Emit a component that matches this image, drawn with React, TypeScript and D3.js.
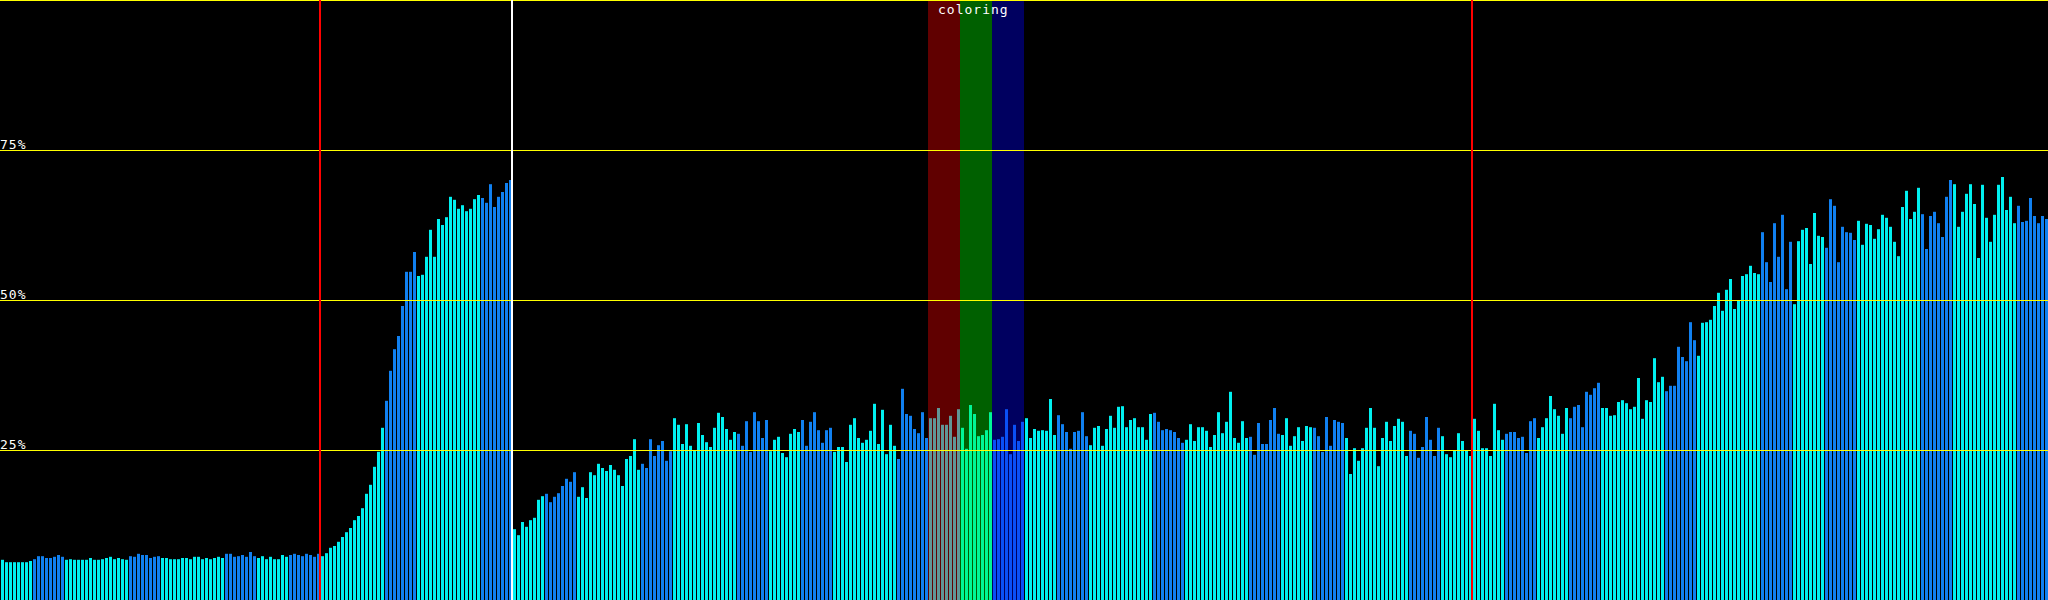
import React from "react";
import * as d3 from "d3";

// Usage per page (percent), 512 pages in 4 ranges
const usage0to127 = [
  6.7, 6.3, 6.3, 6.3, 6.3, 6.3, 6.3, 6.5, 6.8, 7.3, 7.3, 7.0, 7.0, 7.2, 7.5, 7.2,
  6.7, 6.8, 6.7, 6.7, 6.7, 6.7, 7.0, 6.7, 6.7, 6.8, 7.0, 7.2, 6.8, 7.0, 6.8, 6.7,
  7.3, 7.2, 7.7, 7.5, 7.5, 7.0, 7.2, 7.3, 7.0, 7.0, 6.8, 6.8, 6.8, 7.0, 7.0, 6.8,
  7.2, 7.2, 6.8, 7.0, 6.8, 7.0, 7.2, 7.0, 7.7, 7.7, 7.2, 7.3, 7.5, 7.2, 8.0, 7.3,
  7.0, 7.3, 6.8, 7.2, 6.8, 6.8, 7.5, 7.2, 7.5, 7.7, 7.5, 7.3, 7.7, 7.5, 7.2, 7.7,
  7.3, 7.8, 8.7, 9.0, 9.7, 10.5, 11.3, 12.0, 13.3, 14.0, 15.3, 17.7, 19.2, 22.2, 24.7, 28.7,
  33.2, 38.2, 41.8, 44.0, 49.0, 54.7, 54.7, 58.0, 54.0, 54.2, 57.2, 61.7, 57.2, 63.5, 62.5, 63.8,
  67.2, 66.7, 65.2, 65.8, 64.8, 65.2, 66.8, 67.5, 67.0, 66.2, 69.3, 65.5, 67.2, 68.0, 69.5, 70.0,
];
const usage128to255 = [
  11.8, 10.8, 13.0, 12.2, 13.3, 13.7, 16.7, 17.3, 17.7, 16.3, 17.2, 17.8, 19.0, 20.2, 19.7, 21.3,
  17.2, 18.8, 17.0, 21.3, 20.8, 22.7, 22.0, 21.5, 22.5, 21.7, 20.8, 19.0, 23.5, 24.0, 26.8, 21.7,
  22.7, 22.0, 26.8, 24.0, 25.8, 26.5, 23.2, 24.8, 30.3, 29.2, 26.0, 29.3, 25.7, 25.0, 29.5, 27.5,
  26.3, 25.5, 28.7, 31.2, 30.5, 28.5, 26.7, 28.0, 27.7, 25.7, 29.8, 24.7, 31.3, 29.8, 27.0, 30.0,
  24.8, 26.7, 27.2, 24.5, 23.8, 27.7, 28.5, 28.0, 30.0, 25.7, 29.7, 31.3, 28.3, 26.2, 28.3, 28.7,
  24.7, 25.5, 25.5, 23.0, 29.2, 30.3, 27.0, 26.2, 26.7, 28.2, 32.7, 26.0, 31.7, 24.3, 29.2, 25.7,
  23.5, 35.2, 31.0, 30.7, 28.5, 27.8, 31.3, 27.0, 30.3, 30.3, 32.0, 29.2, 29.2, 30.7, 27.2, 31.8,
  28.7, 25.2, 32.5, 31.0, 27.3, 27.5, 28.3, 31.3, 26.7, 26.8, 27.2, 31.8, 24.3, 29.2, 26.5, 29.7,
];
const usage256to383 = [
  30.3, 27.0, 28.5, 28.2, 28.3, 28.2, 33.5, 27.5, 30.8, 29.3, 28.0, 25.2, 28.0, 28.2, 31.3, 27.3,
  25.8, 28.7, 29.0, 25.7, 28.5, 30.7, 28.7, 32.2, 32.3, 28.8, 30.0, 30.3, 28.8, 28.8, 26.7, 31.0,
  31.2, 29.7, 28.3, 28.5, 28.3, 28.0, 27.0, 26.2, 26.7, 29.3, 26.5, 28.8, 28.8, 28.2, 25.5, 27.5,
  31.3, 27.8, 29.7, 34.7, 27.0, 26.2, 29.8, 27.0, 27.2, 24.2, 29.5, 26.0, 26.0, 30.0, 32.0, 27.7,
  27.5, 30.3, 25.7, 27.3, 28.8, 26.5, 29.0, 28.8, 28.7, 27.3, 24.7, 30.5, 25.7, 30.0, 29.7, 29.5,
  27.0, 21.0, 25.3, 23.2, 25.3, 28.7, 32.0, 28.7, 22.3, 27.0, 29.7, 26.5, 29.0, 30.2, 29.7, 24.0,
  28.2, 27.7, 23.7, 25.5, 30.5, 26.7, 24.0, 28.7, 27.3, 24.3, 23.8, 25.0, 27.8, 26.5, 25.0, 24.0,
  30.2, 28.2, 25.3, 25.3, 24.0, 32.7, 28.3, 26.7, 27.7, 28.0, 28.0, 27.0, 27.2, 24.5, 29.8, 30.3,
];
const usage384to511 = [
  27.0, 28.8, 30.3, 34.0, 31.8, 30.7, 27.7, 32.0, 30.3, 32.2, 32.5, 28.8, 34.7, 34.2, 35.3, 36.2,
  32.0, 32.0, 30.7, 30.8, 33.0, 33.3, 32.8, 31.8, 32.2, 37.0, 30.2, 33.3, 33.0, 40.3, 36.3, 37.2,
  34.8, 35.7, 35.7, 42.2, 40.5, 39.8, 46.3, 43.3, 40.7, 46.2, 46.3, 46.7, 49.0, 51.2, 48.2, 51.7,
  53.5, 48.5, 50.0, 54.0, 54.3, 55.7, 54.5, 54.3, 61.3, 56.3, 53.0, 62.8, 57.2, 64.2, 51.8, 59.7,
  49.3, 59.8, 61.7, 62.0, 56.0, 64.5, 60.7, 60.5, 58.7, 66.8, 65.7, 56.3, 62.2, 61.3, 61.2, 60.0,
  63.2, 59.2, 62.7, 62.5, 60.2, 61.8, 64.2, 63.7, 62.2, 59.7, 57.3, 65.5, 68.2, 63.5, 64.7, 68.7,
  64.3, 58.5, 64.0, 64.7, 62.8, 60.5, 67.2, 70.0, 69.3, 62.2, 64.7, 67.7, 69.3, 66.0, 57.0, 69.2,
  63.7, 59.7, 64.2, 69.2, 70.5, 65.0, 67.2, 62.8, 65.7, 63.0, 63.2, 67.0, 64.0, 62.8, 64.0, 63.5,
];

// Kind of each group of 8 pages (0 = cyan, 1 = blue)
const groupKinds = [
  0, 1, 0, 0, 1, 0, 0, 1, 0, 1, 0, 0, 1, 0, 0, 1,
  0, 1, 0, 0, 1, 0, 0, 1, 0, 1, 0, 0, 1, 0, 0, 1,
  0, 1, 0, 0, 1, 0, 0, 1, 0, 1, 0, 0, 1, 0, 0, 1,
  0, 1, 0, 0, 1, 0, 0, 1, 0, 1, 0, 0, 1, 0, 0, 1,
];
const groupSize = 8;

// Grid levels (percent) and their labels
const gridLevels = [25, 50, 75, 100];
const gridLabels = ["25%", "50%", "75%", ""];

// Marker positions (page index) with kind
const markerPages = [80, 128, 368];
const markerKinds = ["red", "white", "red"];

// Coloring bands (page ranges)
const bandStarts = [232, 240, 248];
const bandEnds = [240, 248, 256];
const bandHues = ["#ff0000", "#00ff00", "#0000ff"];
const bandTitle = "coloring";

const W = 2048;
const H = 600;

export default function App() {
  const values = [...usage0to127, ...usage128to255, ...usage256to383, ...usage384to511];
  const x = d3.scaleLinear().domain([0, values.length]).range([0, W]);
  const y = d3.scaleLinear().domain([0, 100]).range([H, 0]);
  const step = x(1) - x(0);
  const kindColor = ["#00f0f0", "#1080f0"];
  const font = "'DejaVu Sans Mono', monospace";

  return (
    <svg
      width={W}
      height={H}
      style={{ position: "fixed", left: 0, top: 0, background: "#000", display: "block" }}
    >
      <rect x={0} y={0} width={W} height={H} fill="#000" />
      <g>
        {values.map((v, i) => (
          <rect
            key={i}
            x={x(i) + 1}
            y={y(v)}
            width={step - 1}
            height={y(0) - y(v)}
            fill={kindColor[groupKinds[Math.floor(i / groupSize)]]}
          />
        ))}
      </g>
      <g>
        {bandStarts.map((s, k) => (
          <rect
            key={k}
            x={x(s)}
            y={0}
            width={x(bandEnds[k]) - x(s)}
            height={H}
            fill={bandHues[k]}
            fillOpacity={0.376}
          />
        ))}
      </g>
      <g>
        {gridLevels.map((g, k) => (
          <g key={k}>
            <line x1={0} x2={W} y1={Math.round(y(g)) + 0.5} y2={Math.round(y(g)) + 0.5} stroke="#ffff00" strokeWidth={1} />
            {gridLabels[k] && (
              <text
                x={0}
                y={Math.round(y(g)) - 1}
                fill="#fff"
                fontFamily={font}
                fontSize={13}
                letterSpacing={1}
              >
                {gridLabels[k]}
              </text>
            )}
          </g>
        ))}
      </g>
      <g>
        {markerPages.map((p, k) => (
          <line
            key={k}
            x1={x(p)}
            x2={x(p)}
            y1={0}
            y2={H}
            stroke={markerKinds[k] === "red" ? "#ff0000" : "#ffffff"}
            strokeWidth={2}
          />
        ))}
      </g>
      <text
        x={x(bandStarts[0]) + 10}
        y={14}
        fill="#fff"
        fontFamily={font}
        fontSize={13}
        letterSpacing={1}
      >
        {bandTitle}
      </text>
    </svg>
  );
}
